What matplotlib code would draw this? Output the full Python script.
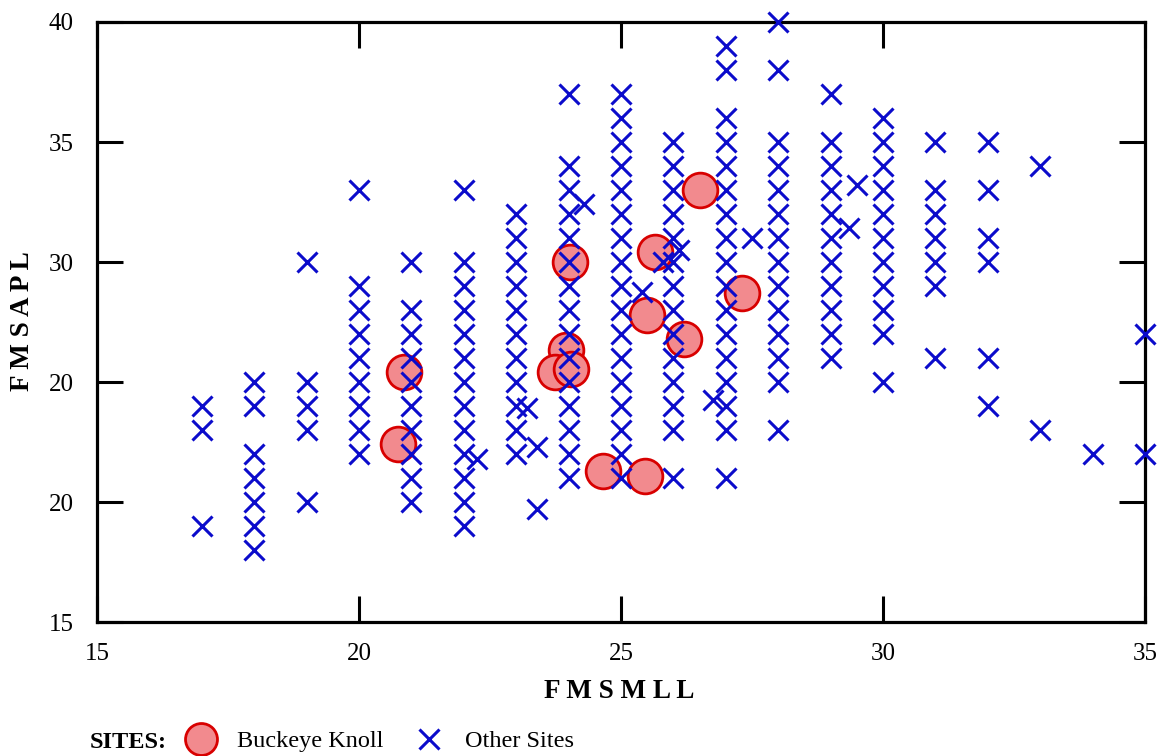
import matplotlib.pyplot as plt
from matplotlib.lines import Line2D

plt.rcParams['font.family'] = 'Liberation Serif'

# other sites: integer FMSMLL columns and the FMSAPL values stacked in each
other_mll = [17, 18, 19, 20, 21, 22, 23, 24, 25, 26, 27, 28, 29, 30, 31, 32, 33, 34, 35]
other_apl = [
    [24, 23, 19],
    [25, 24, 22, 21, 20, 19, 18],
    [30, 25, 24, 23, 20],
    [33, 29, 28, 27, 26, 25, 24, 23, 22],
    [30, 28, 27, 26, 25, 24, 23, 22, 21, 20],
    [33, 30, 29, 28, 27, 26, 25, 24, 23, 22, 21, 20, 19],
    [32, 31, 30, 29, 28, 27, 26, 25, 24, 23, 22],
    [37, 34, 33, 32, 31, 30, 29, 28, 27, 26, 25, 24, 23, 22, 21],
    [37, 36, 35, 34, 33, 32, 31, 30, 29, 28, 27, 26, 25, 24, 23, 22, 21],
    [35, 34, 33, 32, 31, 30, 29, 28, 27, 26, 25, 24, 23, 21],
    [39, 38, 36, 35, 34, 33, 32, 31, 30, 29, 28, 27, 26, 25, 24, 23, 21],
    [40, 38, 35, 34, 33, 32, 31, 30, 29, 28, 27, 26, 25, 23],
    [37, 35, 34, 33, 32, 31, 30, 29, 28, 27, 26],
    [36, 35, 34, 33, 32, 31, 30, 29, 28, 27, 25],
    [35, 33, 32, 31, 30, 29, 26],
    [35, 33, 31, 30, 26, 24],
    [34, 23],
    [22],
    [27, 22],
]

# other sites that fall between the integer columns
extra_mll = [22.25, 23.2, 23.4, 23.4, 24.3, 25.4, 25.8, 26.1, 26.75, 27.5, 29.5, 29.35]
extra_apl = [21.8, 23.9, 22.3, 19.7, 32.4, 28.75, 30.0, 30.5, 24.25, 31.0, 33.2, 31.4]

# Buckeye Knoll
bk_mll = [20.85, 20.75, 24.03, 23.95, 23.75, 24.05, 24.65, 25.45, 25.5, 25.65, 26.2, 26.5, 27.3]
bk_apl = [25.4, 22.4, 30.0, 26.35, 25.4, 25.55, 21.3, 21.1, 27.8, 30.4, 26.8, 33.0, 28.7]

xticks = [15, 20, 25, 30, 35]
yticks = [15, 20, 25, 30, 35, 40]
ytick_labels = ['15', '20', '20', '30', '35', '40']

blue = '#0B0BCB'
fill_red = '#F28A8E'
edge_red = '#D80000'

fig = plt.figure(figsize=(11.63, 7.56), dpi=100)
ax = fig.add_axes([0.0834, 0.1772, 0.9011, 0.7937])

ax.plot(bk_mll, bk_apl, linestyle='none', marker='o', markersize=25,
        markerfacecolor=fill_red, markeredgecolor=edge_red, markeredgewidth=2,
        zorder=2)

xs = []
ys = []
for mll, col in zip(other_mll, other_apl):
    xs += [mll] * len(col)
    ys += col
xs += extra_mll
ys += extra_apl
ax.plot(xs, ys, linestyle='none', marker='x', markersize=14,
        markeredgewidth=2.2, color=blue, zorder=3, clip_on=False)

ax.set_xlim(15, 35)
ax.set_ylim(15, 40)
ax.set_xticks(xticks)
ax.set_yticks(yticks)
ax.set_yticklabels(ytick_labels)
ax.tick_params(direction='in', length=18.5, width=2.2, labelsize=18,
               top=True, right=True, pad=15)
ax.tick_params(axis='y', pad=17)
for s in ax.spines.values():
    s.set_linewidth(2.3)

fig.text(619 / 1163, 1 - 692 / 756, 'F M S M L L', ha='center', va='center',
         fontsize=19.5, fontweight='bold')
fig.text(23 / 1163, 1 - 321 / 756, 'F M S A P L', ha='center', va='center',
         fontsize=19.5, fontweight='bold', rotation=90)

# legend row under the x label
fig.text(90 / 1163, 1 - 748 / 756, 'SITES:', ha='left', va='baseline',
         fontsize=17.5, fontweight='bold')
handles = [
    Line2D([], [], linestyle='none', marker='o', markersize=23,
           markerfacecolor=fill_red, markeredgecolor=edge_red, markeredgewidth=2),
    Line2D([], [], linestyle='none', marker='x', markersize=14,
           markeredgewidth=2.2, color=blue),
]
fig.legend(handles, ['Buckeye Knoll', 'Other Sites'], loc='center left',
           bbox_to_anchor=(181.5 / 1163, 1 - 741 / 756), ncol=2, frameon=False,
           fontsize=17.5, borderpad=0, borderaxespad=0, handlelength=1.6,
           handletextpad=0.68, columnspacing=1.09)

fig.savefig('out.png', dpi=100)
